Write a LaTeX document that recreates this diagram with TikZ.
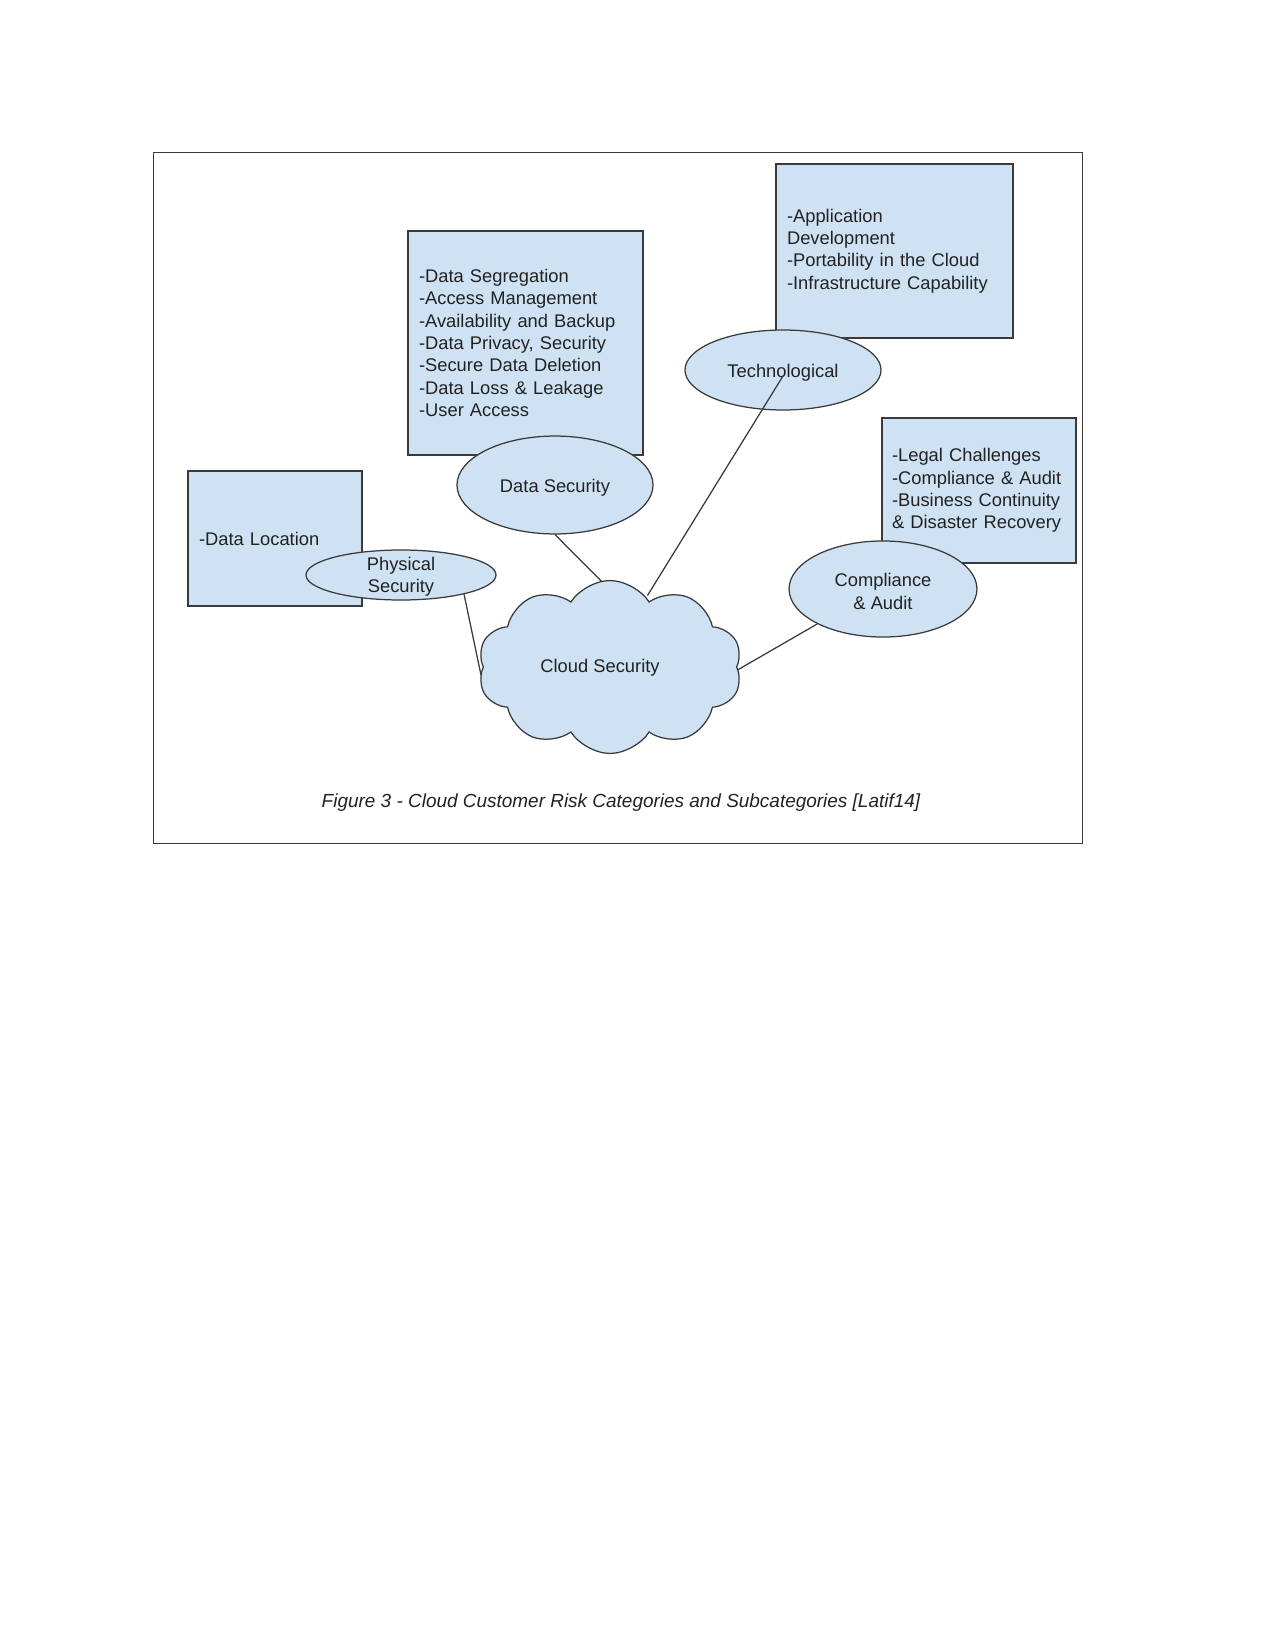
\documentclass[tikz,border=0pt]{standalone}
\usepackage{fontspec}
\setmainfont{Liberation Sans}
\usetikzlibrary{shapes.geometric,shapes.symbols}
\definecolor{fillblue}{HTML}{CFE2F3}
\definecolor{edge}{HTML}{3A3A3A}
\definecolor{ink}{HTML}{222222}
\begin{document}
\begin{tikzpicture}[x=0.48pt,y=-0.48pt,
  font=\fontsize{8.8}{10.7}\selectfont, text=ink,
  box/.style={draw=edge, fill=fillblue, line width=0.6pt, rectangle,
    inner ysep=0pt, align=left},
  oval/.style={draw=edge, fill=fillblue, line width=0.6pt, ellipse, inner sep=0pt},
  ovaltext/.style={text=ink, align=center, yshift=-1.2pt},
  link/.style={draw=edge, line width=0.6pt}]
\useasboundingbox (0,0) rectangle (1275,1650);
\fill[white] (0,0) rectangle (1275,1650);
\draw[edge, line width=0.6pt] (153.6,152.5) rectangle (1082.5,843.7);

% boxes
\node[box, inner xsep=5.3pt, minimum width=112.8pt, minimum height=107.5pt, text width=102.2pt]
  (dsbox) at (525.5,343) {-Data Segregation\\-Access Management\\-Availability and Backup\\-Data Privacy, Security\\-Secure Data Deletion\\-Data Loss \& Leakage\\-User Access};
\node[box, inner xsep=5.3pt, minimum width=113.8pt, minimum height=83.5pt, text width=103.2pt]
  (techbox) at (894.5,251) {-Application\\Development\\-Portability in the Cloud\\-Infrastructure Capability};
\node[box, inner xsep=4.8pt, minimum width=93.1pt, minimum height=69.6pt, text width=83.5pt]
  (compbox) at (979,490.5) {-Legal Challenges\\-Compliance \& Audit\\-Business Continuity\\\& Disaster Recovery};
\node[box, inner xsep=5.3pt, minimum width=83.5pt, minimum height=64.8pt, text width=72.9pt]
  (locbox) at (275,538.5) {-Data Location};

% ellipses
\node[oval, minimum width=94.1pt, minimum height=38.4pt,
  label={[ovaltext]center:Technological}] (tech) at (783,370) {};
\node[oval, minimum width=94.1pt, minimum height=47pt,
  label={[ovaltext]center:Data Security}] (ds) at (555,485) {};
\node[oval, minimum width=91.2pt, minimum height=24pt,
  label={[ovaltext, yshift=0.4pt]center:Physical\\Security}] (phys) at (401,575) {};
\node[oval, minimum width=90.2pt, minimum height=46.1pt,
  label={[ovaltext]center:Compliance\\\& Audit}] (comp) at (883,589) {};

% connector end points inside the cloud
\coordinate (cphys) at (481,675);
\coordinate (cds) at (619,599);
\coordinate (ctech) at (647.5,595.5);
\coordinate (ccomp) at (734,672);
\coordinate (techin) at (783,376);

\draw[link] (phys.-17) -- (cphys);
\draw[link] (ds.south) -- (cds);
\draw[link] (techin) -- (ctech);
\draw[link] (comp.208) -- (ccomp);

% cloud
\node[cloud, cloud puffs=10, cloud puff arc=115, cloud ignores aspect,
  draw=edge, fill=fillblue, line width=0.6pt, inner sep=0pt,
  minimum width=126.7pt, minimum height=83pt,
  label={[text=ink, xshift=-4.8pt, yshift=-0.3pt]center:Cloud Security}] (cloud) at (610,667) {};

% caption
\node[font=\itshape\fontsize{9.1}{11}\selectfont] (caption) at (621,803)
  {Figure 3 - Cloud Customer Risk Categories and Subcategories [Latif14]};
\end{tikzpicture}
\end{document}
